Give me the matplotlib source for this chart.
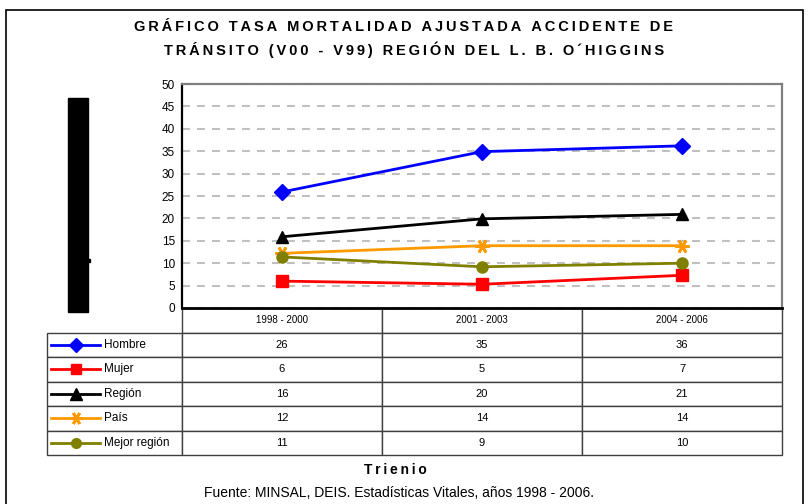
import matplotlib.pyplot as plt
from matplotlib.patches import Rectangle

plt.rcParams['font.family'] = ['Liberation Sans', 'DejaVu Sans']

periods = ["1998 - 2000", "2001 - 2003", "2004 - 2006"]
series_names = ["Hombre", "Mujer", "Región", "País", "Mejor región"]

hombre = [25.9, 34.9, 36.2]
mujer = [6.0, 5.3, 7.3]
region = [15.9, 19.9, 20.9]
pais = [12.2, 13.9, 13.9]
mejor_region = [11.4, 9.2, 10.0]

yticks = [0, 5, 10, 15, 20, 25, 30, 35, 40, 45, 50]

series = [hombre, mujer, region, pais, mejor_region]
colors = ["#0000FF", "#FF0000", "#000000", "#FF9900", "#808000"]
markers = ["D", "s", "^", (6, 2, 90), "o"]
msizes = [8, 8, 9, 10, 8]


def spaced(s, sep="\u2009"):
    # mimic the wide letter spacing of the original title
    return sep.join(s)


fig = plt.figure(figsize=(8.08, 5.04), dpi=100)

# outer frame
fig.patches.append(Rectangle((6 / 808, -0.05), 797 / 808, 1 - 10 / 504 + 0.05,
                             transform=fig.transFigure, fill=False,
                             edgecolor="black", linewidth=1.2))

# redaction block on the left
fig.patches.append(Rectangle((68 / 808, 1 - 312 / 504), 20 / 808, 214 / 504,
                             transform=fig.transFigure, color="black"))
fig.patches.append(Rectangle((88 / 808, 1 - 262 / 504), 2 / 808, 3 / 504,
                             transform=fig.transFigure, color="black"))

ax = fig.add_axes([182 / 808, 1 - 308 / 504, 600 / 808, 224 / 504])

x = list(range(len(periods)))
for vals, c, m, ms in zip(series, colors, markers, msizes):
    ax.plot(x, vals, color=c, linewidth=2, marker=m, markersize=ms,
            markeredgewidth=2 if m == (6, 2, 90) else 1, markeredgecolor=c,
            zorder=3, clip_on=False)

ax.set_xlim(-0.5, len(periods) - 0.5)
ax.set_ylim(0, 50)
ax.set_yticks(yticks)
ax.set_xticks([])
ax.tick_params(axis="y", length=0, pad=5, labelsize=8.5)
ax.yaxis.grid(True, color="#C0C0C0", linewidth=1.5, dashes=(3.8, 3.4))
ax.set_axisbelow(True)

ax.spines["left"].set_color("black")
ax.spines["left"].set_linewidth(1.6)
ax.spines["bottom"].set_color("black")
ax.spines["bottom"].set_linewidth(2)
ax.spines["bottom"].set_zorder(5)
for s in ["top", "right"]:
    ax.spines[s].set_color("#808080")
    ax.spines[s].set_linewidth(1.6)

# data table under the chart (first column holds the legend labels)
table_vals = [[name] + [str(round(v)) for v in vals]
              for name, vals in zip(series_names, series)]
tab_left = (47 - 182) / 600
tab_height = (455 - 308) / 224
label_w = (182 - 47) / (782 - 47)
col_w = 200 / (782 - 47)
tab = ax.table(cellText=table_vals, colLabels=[""] + periods,
               cellLoc="center", colWidths=[label_w] + [col_w] * 3,
               bbox=[tab_left, -tab_height, 1 - tab_left, tab_height])
tab.auto_set_font_size(False)
for (r, c), cell in tab.get_celld().items():
    cell.set_edgecolor("#404040")
    cell.set_linewidth(1)
    if r == 0:
        cell.get_text().set_fontsize(7)
        if c == 0:
            cell.visible_edges = ""
    else:
        cell.get_text().set_fontsize(8)
    if c == 0 and r > 0:
        cell.PAD = 57 / 135
        cell.get_text().set_fontsize(8.5)
        cell.set_text_props(ha="left")
        cell._loc = "left"

row_h = tab_height / (len(series_names) + 1)
for i, (c, m, ms) in enumerate(zip(colors, markers, msizes)):
    yy = -(i + 1.5) * row_h
    ax.plot([(51 - 182) / 600, (100 - 182) / 600], [yy, yy], color=c,
            linewidth=2, transform=ax.transAxes, clip_on=False, zorder=6)
    ax.plot([(76 - 182) / 600], [yy], color=c, marker=m, markersize=ms - 1,
            markeredgewidth=2 if m == (6, 2, 90) else 1, markeredgecolor=c,
            transform=ax.transAxes, clip_on=False, zorder=6)

fig.text(404 / 808, 1 - 27 / 504,
         spaced("GRÁFICO TASA MORTALIDAD AJUSTADA ACCIDENTE DE"),
         ha="center", va="center", fontsize=10.5, fontweight="bold")
fig.text(414 / 808, 1 - 50 / 504,
         spaced("TRÁNSITO (V00 - V99) REGIÓN DEL L. B. O´HIGGINS"),
         ha="center", va="center", fontsize=10.5, fontweight="bold")
fig.text(395 / 808, 1 - 470 / 504, spaced("Trienio"), ha="center",
         va="center", fontsize=10, fontweight="bold")
fig.text(399 / 808, 1 - 493 / 504,
         "Fuente: MINSAL, DEIS. Estadísticas Vitales, años 1998 - 2006.",
         ha="center", va="center", fontsize=10)

fig.savefig("out.png", dpi=100)
